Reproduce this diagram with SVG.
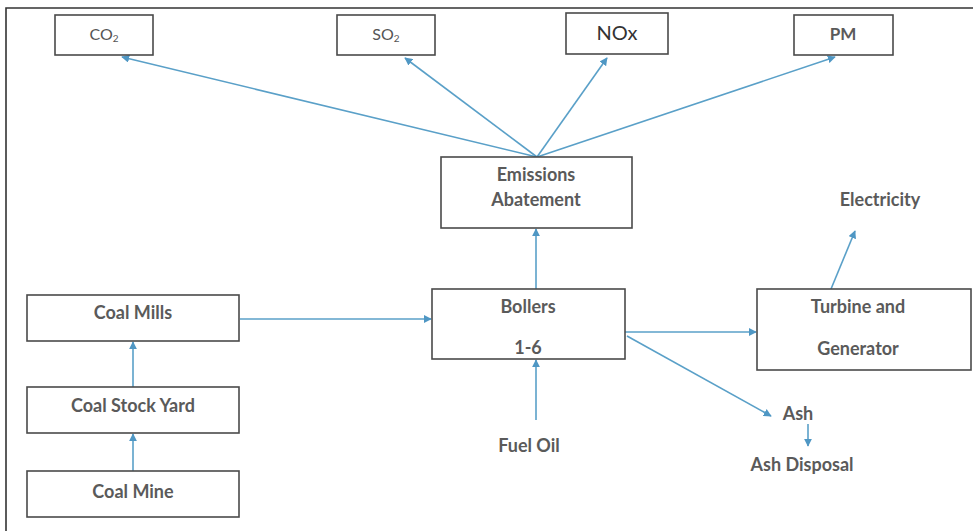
<svg xmlns="http://www.w3.org/2000/svg" width="973" height="531" viewBox="0 0 973 531">
<style>
.box{fill:#fff;stroke:#4a4a4a;stroke-width:1.6}
.t{font-family:Lato,"Open Sans","Liberation Sans",sans-serif;font-size:18px;fill:#5a5a5a;font-weight:bold;text-anchor:middle}
.s{font-family:Lato,"Open Sans","Liberation Sans",sans-serif;font-size:16px;fill:#555;text-anchor:middle}
.c{stroke:#5aa0c8;stroke-width:1.6;fill:none;marker-end:url(#ah)}
</style>
<defs>
<marker id="ah" viewBox="0 0 10 10" refX="9" refY="5" markerWidth="5" markerHeight="5" orient="auto" markerUnits="strokeWidth">
<path d="M0,0 L10,5 L0,10 z" fill="#4f97c4"/>
</marker>
</defs>
<rect width="973" height="531" fill="#fff"/>
<path d="M6,531 V8 H973" fill="none" stroke="#333" stroke-width="1.6"/>
<g id="connectors">
<line class="c" x1="537" y1="157" x2="122" y2="57"/>
<line class="c" x1="537" y1="157" x2="405" y2="58"/>
<line class="c" x1="537" y1="157" x2="607" y2="58"/>
<line class="c" x1="537" y1="157" x2="835" y2="57"/>
<line class="c" x1="536" y1="289" x2="536" y2="229"/>
<line class="c" x1="240" y1="319" x2="431" y2="319"/>
<line class="c" x1="133" y1="387" x2="133" y2="342"/>
<line class="c" x1="133" y1="471" x2="133" y2="434"/>
<line class="c" x1="625" y1="332" x2="756" y2="332"/>
<line class="c" x1="627" y1="336" x2="771" y2="416"/>
<line class="c" x1="536" y1="420" x2="536" y2="360"/>
<line class="c" x1="831" y1="289" x2="855" y2="231"/>
<line class="c" x1="808" y1="424" x2="808" y2="446"/>
</g>
<g id="co2"><rect class="box" x="55" y="15" width="98" height="40"/><text class="s" x="104" y="40">CO<tspan font-size="10" dy="2">2</tspan></text></g>
<g id="so2"><rect class="box" x="337" y="15" width="98" height="40"/><text class="s" x="386" y="40">SO<tspan font-size="10" dy="2">2</tspan></text></g>
<g id="nox"><rect class="box" x="566" y="13" width="102" height="41"/><text class="s" x="617" y="40" style="font-size:20px;fill:#333">NOx</text></g>
<g id="pm"><rect class="box" x="794" y="15" width="99" height="40"/><text class="t" x="843" y="40" style="font-size:17px">PM</text></g>
<g id="emissions"><rect class="box" x="441" y="157" width="191" height="71"/><text class="t" x="536" y="181">Emissions</text><text class="t" x="536" y="206">Abatement</text></g>
<g id="electricity"><text class="t" x="880" y="206">Electricity</text></g>
<g id="boilers"><rect class="box" x="432" y="289" width="193" height="70"/><text class="t" x="528" y="313">Bollers</text><text class="t" x="528" y="354">1-6</text></g>
<g id="turbine"><rect class="box" x="757" y="289" width="214" height="81"/><text class="t" x="858" y="313">Turbine and</text><text class="t" x="858" y="355">Generator</text></g>
<g id="coalmills"><rect class="box" x="27" y="295" width="212" height="46"/><text class="t" x="133" y="319">Coal Mills</text></g>
<g id="stockyard"><rect class="box" x="27" y="387" width="212" height="46"/><text class="t" x="133" y="412">Coal Stock Yard</text></g>
<g id="coalmine"><rect class="box" x="27" y="471" width="212" height="46"/><text class="t" x="133" y="498">Coal Mine</text></g>
<g id="fueloil"><text class="t" x="529" y="452">Fuel Oil</text></g>
<g id="ash"><text class="t" x="798" y="420">Ash</text></g>
<g id="ashdisposal"><text class="t" x="802" y="471">Ash Disposal</text></g>
</svg>
